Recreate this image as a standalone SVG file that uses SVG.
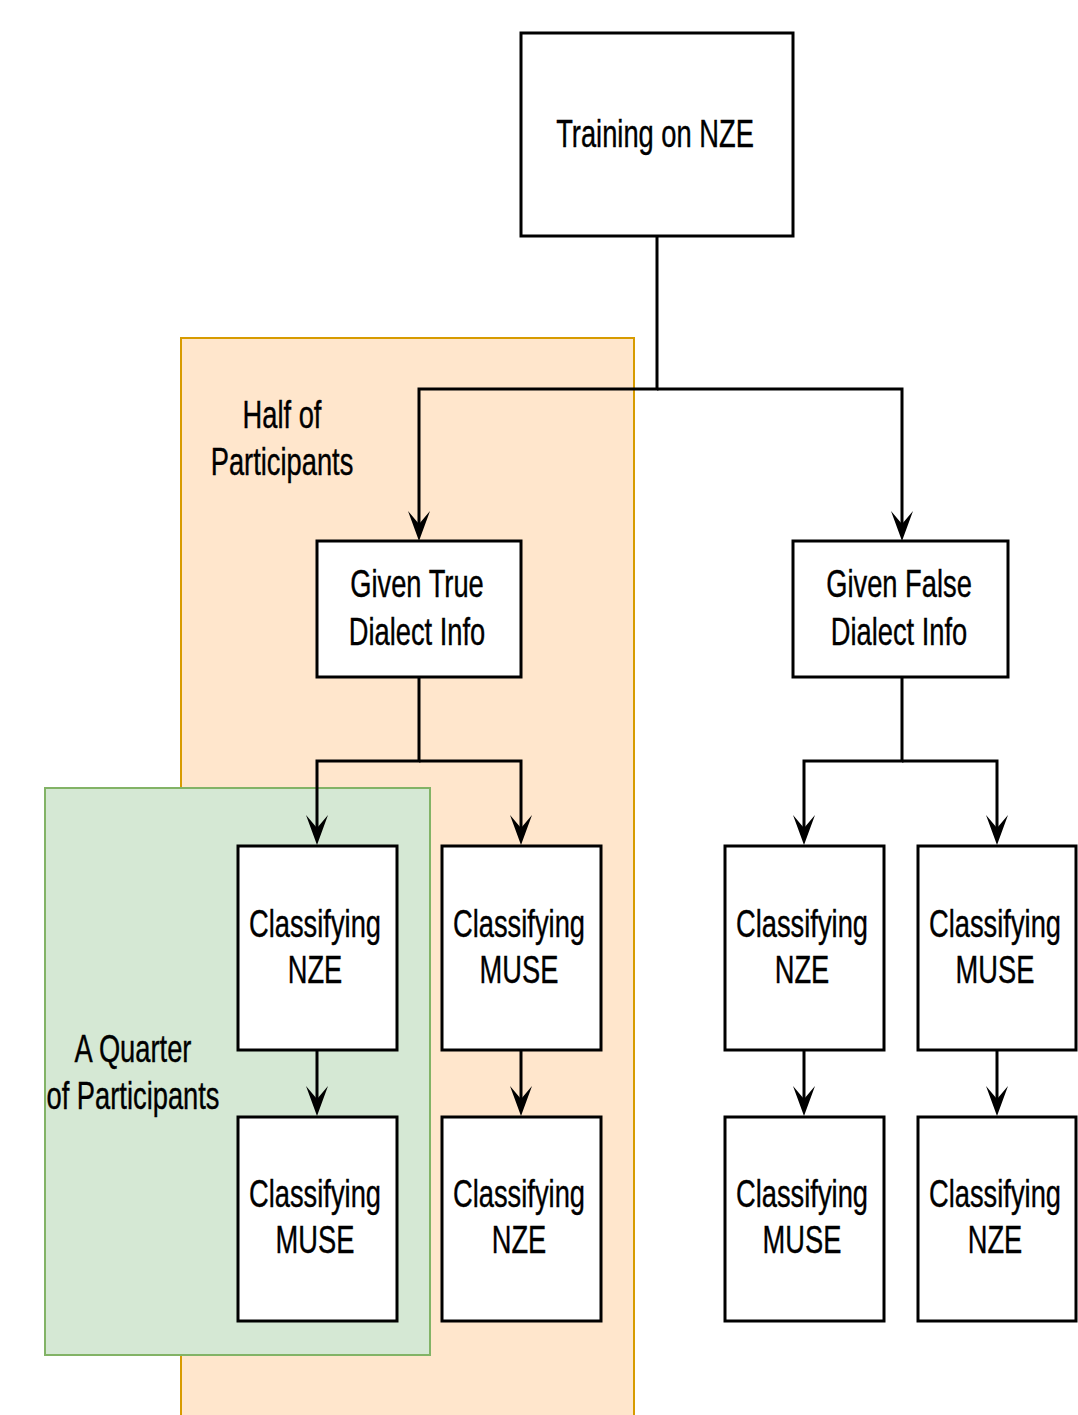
<svg xmlns="http://www.w3.org/2000/svg" width="1078" height="1415" viewBox="0 0 1078 1415">
<defs>
<style>
.box{fill:#ffffff;stroke:#000000;stroke-width:3}
.t{font-family:"Liberation Sans",Arial,Helvetica,sans-serif;font-size:39px;fill:#000000;text-anchor:middle;stroke:#000000;stroke-width:0.4}
.c{fill:none;stroke:#000000;stroke-width:3}
</style>
<marker id="arr" viewBox="0 0 30 22" refX="13" refY="11" markerWidth="30" markerHeight="22" markerUnits="userSpaceOnUse" orient="auto">
<path d="M0,0 L30,11 L0,22 L13,11 Z" fill="#000000"/>
</marker>
</defs>
<rect width="1078" height="1415" fill="#ffffff"/>
<g id="half-group">
<rect x="181" y="338" width="453" height="1090" fill="#ffe6cc" stroke="#d79b00" stroke-width="2"/>
<text class="t" transform="translate(282,0) scale(0.7,1)"><tspan x="0" y="428">Half of</tspan><tspan x="0" y="475">Participants</tspan></text>
</g>
<g id="quarter-group">
<rect x="45" y="788" width="385" height="567" fill="#d5e8d4" stroke="#82b366" stroke-width="2"/>
<text class="t" transform="translate(133,0) scale(0.7,1)"><tspan x="0" y="1062">A Quarter</tspan><tspan x="0" y="1109">of Participants</tspan></text>
</g>
<g id="connectors">
<path class="c" d="M657,236 V389 H419 V524" marker-end="url(#arr)"/>
<path class="c" d="M657,389 H902 V524" marker-end="url(#arr)"/>
<path class="c" d="M419,677 V761 H317 V828" marker-end="url(#arr)"/>
<path class="c" d="M419,761 H521 V828" marker-end="url(#arr)"/>
<path class="c" d="M902,677 V761 H804 V828" marker-end="url(#arr)"/>
<path class="c" d="M902,761 H997 V828" marker-end="url(#arr)"/>
<path class="c" d="M317,1050 V1099" marker-end="url(#arr)"/>
<path class="c" d="M521,1050 V1099" marker-end="url(#arr)"/>
<path class="c" d="M804,1050 V1099" marker-end="url(#arr)"/>
<path class="c" d="M997,1050 V1099" marker-end="url(#arr)"/>
</g>
<g id="training">
<rect class="box" x="521" y="33" width="272" height="203"/>
<text class="t" transform="translate(655,0) scale(0.7,1)"><tspan x="0" y="147">Training on NZE</tspan></text>
</g>
<g id="given-true">
<rect class="box" x="317" y="541" width="204" height="136"/>
<text class="t" transform="translate(417,0) scale(0.7,1)"><tspan x="0" y="597">Given True</tspan><tspan x="0" y="645">Dialect Info</tspan></text>
</g>
<g id="given-false">
<rect class="box" x="793" y="541" width="215" height="136"/>
<text class="t" transform="translate(899,0) scale(0.7,1)"><tspan x="0" y="597">Given False</tspan><tspan x="0" y="645">Dialect Info</tspan></text>
</g>
<g id="true-nze-1">
<rect class="box" x="238" y="846" width="159" height="204"/>
<text class="t" transform="translate(315,0) scale(0.7,1)"><tspan x="0" y="937">Classifying</tspan><tspan x="0" y="983">NZE</tspan></text>
</g>
<g id="true-muse-2">
<rect class="box" x="238" y="1117" width="159" height="204"/>
<text class="t" transform="translate(315,0) scale(0.7,1)"><tspan x="0" y="1207">Classifying</tspan><tspan x="0" y="1253">MUSE</tspan></text>
</g>
<g id="true-muse-1">
<rect class="box" x="442" y="846" width="159" height="204"/>
<text class="t" transform="translate(519,0) scale(0.7,1)"><tspan x="0" y="937">Classifying</tspan><tspan x="0" y="983">MUSE</tspan></text>
</g>
<g id="true-nze-2">
<rect class="box" x="442" y="1117" width="159" height="204"/>
<text class="t" transform="translate(519,0) scale(0.7,1)"><tspan x="0" y="1207">Classifying</tspan><tspan x="0" y="1253">NZE</tspan></text>
</g>
<g id="false-nze-1">
<rect class="box" x="725" y="846" width="159" height="204"/>
<text class="t" transform="translate(802,0) scale(0.7,1)"><tspan x="0" y="937">Classifying</tspan><tspan x="0" y="983">NZE</tspan></text>
</g>
<g id="false-muse-2">
<rect class="box" x="725" y="1117" width="159" height="204"/>
<text class="t" transform="translate(802,0) scale(0.7,1)"><tspan x="0" y="1207">Classifying</tspan><tspan x="0" y="1253">MUSE</tspan></text>
</g>
<g id="false-muse-1">
<rect class="box" x="918" y="846" width="158" height="204"/>
<text class="t" transform="translate(995,0) scale(0.7,1)"><tspan x="0" y="937">Classifying</tspan><tspan x="0" y="983">MUSE</tspan></text>
</g>
<g id="false-nze-2">
<rect class="box" x="918" y="1117" width="158" height="204"/>
<text class="t" transform="translate(995,0) scale(0.7,1)"><tspan x="0" y="1207">Classifying</tspan><tspan x="0" y="1253">NZE</tspan></text>
</g>
</svg>
